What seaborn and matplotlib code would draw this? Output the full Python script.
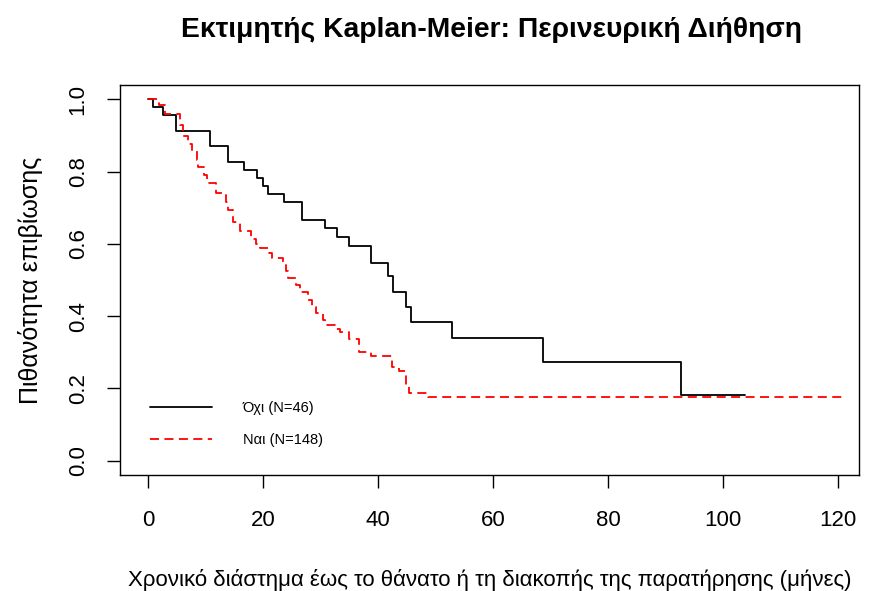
import matplotlib
matplotlib.use("Agg")
import matplotlib.pyplot as plt
import seaborn as sns
import pandas as pd

# Group "Όχι" (N=46): step times (months) and survival after each step
no_time = [0, 0.9, 2.6, 4.9, 10.8, 13.9, 16.7, 19.0, 20.0, 20.9, 23.7, 26.8,
           30.8, 32.9, 35.0, 38.8, 41.7, 42.6, 44.9, 45.7, 52.9, 68.7, 92.7, 103.8]
no_surv = [1.0, 0.978, 0.957, 0.913, 0.870, 0.826, 0.804, 0.783, 0.761, 0.739, 0.717, 0.667,
           0.643, 0.619, 0.595, 0.548, 0.512, 0.467, 0.425, 0.384, 0.340, 0.272, 0.181, 0.181]

# Group "Ναι" (N=148)
yes_time = [0, 1.9, 3.0, 5.6, 6.1, 7.0, 7.7, 8.5, 8.7, 9.7, 10.3, 11.8, 13.6, 13.9,
            14.8, 16.0, 17.9, 18.8, 19.5, 21.0, 21.6, 23.5, 24.0, 24.3, 25.7, 26.4,
            27.8, 28.5, 29.2, 30.4, 30.8, 32.5, 33.4, 35.0, 36.7, 38.8, 42.4, 43.7,
            44.9, 45.4, 48.7, 120.9]
yes_surv = [1.0, 0.986, 0.959, 0.930, 0.900, 0.878, 0.857, 0.833, 0.813, 0.790, 0.768,
            0.740, 0.715, 0.693, 0.660, 0.635, 0.613, 0.600, 0.588, 0.575, 0.561, 0.544,
            0.525, 0.505, 0.485, 0.467, 0.445, 0.425, 0.410, 0.390, 0.376, 0.365, 0.356,
            0.337, 0.301, 0.290, 0.260, 0.249, 0.210, 0.188, 0.175, 0.175]

group_labels = ["Όχι (N=46)", "Ναι (N=148)"]
x_ticks = [0, 20, 40, 60, 80, 100, 120]
y_ticks = [0.0, 0.2, 0.4, 0.6, 0.8, 1.0]

df = pd.concat([
    pd.DataFrame({"time": no_time, "surv": no_surv, "group": group_labels[0]}),
    pd.DataFrame({"time": yes_time, "surv": yes_surv, "group": group_labels[1]}),
], ignore_index=True)

sns.set_style("white")
plt.rcParams["font.family"] = ["Liberation Sans", "DejaVu Sans"]
plt.rcParams["text.color"] = "black"
plt.rcParams["axes.labelcolor"] = "black"
plt.rcParams["xtick.color"] = "black"
plt.rcParams["ytick.color"] = "black"

W, H = 869, 591
fig = plt.figure(figsize=(W / 100, H / 100), dpi=100)
ax = fig.add_axes([120 / W, 1 - 475 / H, (859 - 120) / W, (475 - 85) / H])

sns.lineplot(data=df[df.group == group_labels[0]], x="time", y="surv",
             drawstyle="steps-post", color="black", lw=1.3, ax=ax,
             estimator=None, sort=False, label=group_labels[0])
sns.lineplot(data=df[df.group == group_labels[1]], x="time", y="surv",
             drawstyle="steps-post", color="#ff0000", lw=1.3, ax=ax,
             estimator=None, sort=False, label=group_labels[1])
ax.lines[1].set_dashes([5, 3])

ax.set_xlim(-4.87, 123.65)
ax.set_ylim(-0.04, 1.04)
ax.set_xticks(x_ticks)
ax.set_yticks(y_ticks)
ax.set_xticklabels([str(v) for v in x_ticks], fontsize=16)
ax.set_yticklabels([f"{v:.1f}" for v in y_ticks], fontsize=16, rotation=90, va="center")
ax.tick_params(axis="both", direction="out", length=9.5, width=1, color="black",
               bottom=True, left=True)
ax.tick_params(axis="x", pad=16)
ax.tick_params(axis="y", pad=13)
for s in ax.spines.values():
    s.set_color("black")
    s.set_linewidth(1)

ax.set_xlabel("Χρονικό διάστημα έως το θάνατο ή τη διακοπής της παρατήρησης (μήνες)",
              fontsize=16, labelpad=27)
ax.set_ylabel("Πιθανότητα επιβίωσης", fontsize=18, labelpad=18)
fig.suptitle("Εκτιμητής Kaplan-Meier: Περινευρική Διήθηση", fontsize=20.3,
             fontweight="bold", x=491 / W, y=1 - 30 / H, va="center")

leg = ax.legend(loc="upper left", bbox_to_anchor=(17 / 739, 1 - 303 / 390),
                frameon=False, fontsize=10.5, handlelength=4.25, handletextpad=2.1,
                labelspacing=1.2)

fig.savefig("out.png", dpi=100)
